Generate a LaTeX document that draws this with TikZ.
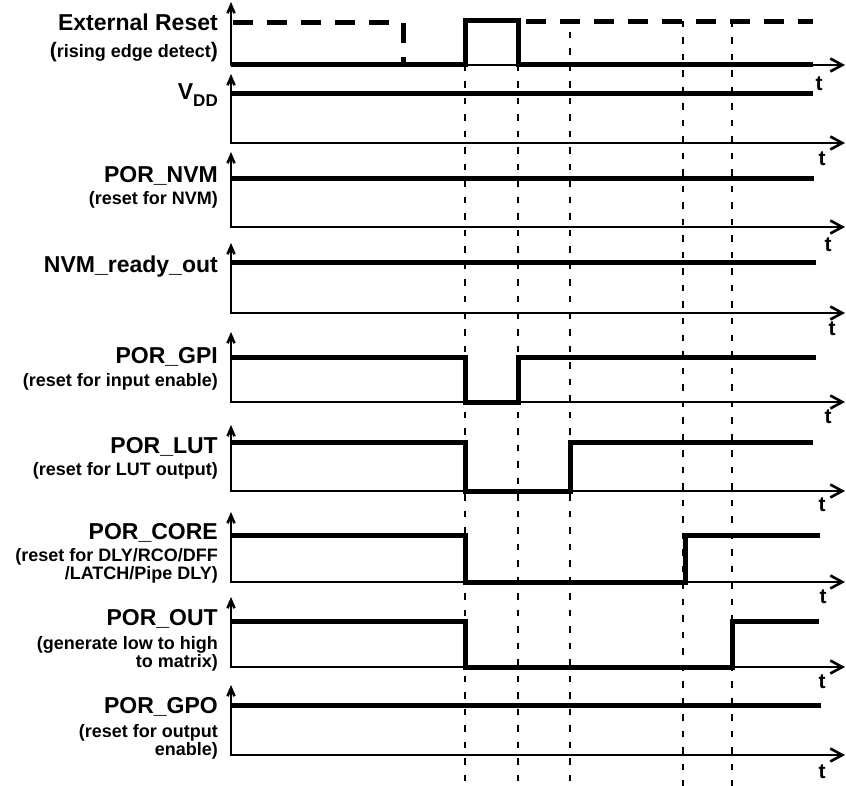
\documentclass[tikz,border=0pt]{standalone}
\usepackage{fontspec}
\setmainfont{Liberation Sans}
\usetikzlibrary{arrows.meta}
\begin{document}
\begin{tikzpicture}[x=1pt,y=-1pt,
  axis/.style={line width=2.6pt,{Straight Barb[length=8pt,width=7pt]}-{Straight Barb[length=12pt,width=13pt]}},
  sig/.style={line width=5pt},
  dsig/.style={line width=5pt,dash pattern=on 20pt off 14pt},
  guide/.style={line width=2.4pt,dash pattern=on 6.5pt off 10pt},
  lab/.style={anchor=base east,inner sep=0pt,font=\fontsize{23}{27}\selectfont\bfseries},
  sub/.style={anchor=base east,inner sep=0pt,font=\fontsize{18}{18}\selectfont\bfseries},
  tl/.style={anchor=north,inner sep=0pt,font=\fontsize{21}{21}\selectfont\bfseries}]
\useasboundingbox (0,0) rectangle (846,786);

% vertical guide lines
\coordinate (g1t) at (465,65);  \coordinate (g1b) at (465,786);
\coordinate (g2t) at (518,65);  \coordinate (g2b) at (518,786);
\coordinate (g3t) at (570,32);  \coordinate (g3b) at (570,786);
\coordinate (g4t) at (683,21);  \coordinate (g4b) at (683,786);
\coordinate (g5t) at (732,21);  \coordinate (g5b) at (732,786);
\draw[guide] (g1t) -- (g1b);
\draw[guide] (g2t) -- (g2b);
\draw[guide] (g3t) -- (g3b);
\draw[guide] (g4t) -- (g4b);
\draw[guide] (g5t) -- (g5b);

% axes
\draw[axis] (231,2) -- (231,65) -- (845,65);
\draw[axis] (231,74) -- (231,143) -- (845,143);
\draw[axis] (231,152) -- (231,227) -- (845,227);
\draw[axis] (231,243) -- (231,313) -- (845,313);
\draw[axis] (231,332) -- (231,402) -- (845,402);
\draw[axis] (231,425) -- (231,491) -- (845,491);
\draw[axis] (231,512) -- (231,582) -- (845,582);
\draw[axis] (231,597) -- (231,667) -- (845,667);
\draw[axis] (231,685) -- (231,755) -- (845,755);

% t labels
\node[tl] (t1) at (819,77) {t};
\node[tl] (t2) at (822,152) {t};
\node[tl] (t3) at (828,238) {t};
\node[tl] (t4) at (832,322) {t};
\node[tl] (t5) at (828,410) {t};
\node[tl] (t6) at (822,498) {t};
\node[tl] (t7) at (823,590) {t};
\node[tl] (t8) at (822,675) {t};
\node[tl] (t9) at (822,765) {t};

% signals
\draw[dsig] (233,23) -- (403,23) -- (403,65);
\draw[sig] (231,65) -- (465,65) -- (465,21) -- (518,21) -- (518,65) -- (813,65);
\draw[dsig] (526,22) -- (813,22);
\draw[sig] (231,94) -- (813,94);
\draw[sig] (231,179) -- (814,179);
\draw[sig] (231,263) -- (816,263);
\draw[sig] (231,357) -- (465,357) -- (465,402) -- (518,402) -- (518,357) -- (816,357);
\draw[sig] (231,442) -- (465,442) -- (465,491) -- (570,491) -- (570,442) -- (813,442);
\draw[sig] (231,535) -- (465,535) -- (465,582) -- (685,582) -- (685,535) -- (820,535);
\draw[sig] (231,621) -- (465,621) -- (465,667) -- (732,667) -- (732,621) -- (819,621);
\draw[sig] (231,705) -- (821,705);

% labels
\node[lab] (l1) at (218,31) {External Reset};
\node[sub] (s1) at (218,58) {{\fontsize{21}{21}\selectfont(}rising edge detect{\fontsize{21}{21}\selectfont)}};
\node[lab] (l2) at (218,100) {V\raisebox{-7pt}{\fontsize{17}{17}\selectfont DD}};
\node[lab] (l3) at (218,183) {POR\_NVM};
\node[sub] (s3) at (218,205) {(reset for NVM)};
\node[lab] (l4) at (218,273) {NVM\_ready\_out};
\node[lab] (l5) at (218,363) {POR\_GPI};
\node[sub] (s5) at (218,386) {(reset for input enable)};
\node[lab] (l6) at (218,453) {POR\_LUT};
\node[sub] (s6) at (218,475) {(reset for LUT output)};
\node[lab] (l7) at (218,539) {POR\_CORE};
\node[sub] (s7) at (218,561) {\begin{tabular}[t]{@{}r@{}}(reset for DLY/RCO/DFF\\/LATCH/Pipe DLY)\end{tabular}};
\node[lab] (l8) at (218,625) {POR\_OUT};
\node[sub] (s8) at (218,649) {\begin{tabular}[t]{@{}r@{}}(generate low to high\\to matrix)\end{tabular}};
\node[lab] (l9) at (218,713) {POR\_GPO};
\node[sub] (s9) at (218,737) {\begin{tabular}[t]{@{}r@{}}(reset for output\\enable)\end{tabular}};
\end{tikzpicture}
\end{document}
